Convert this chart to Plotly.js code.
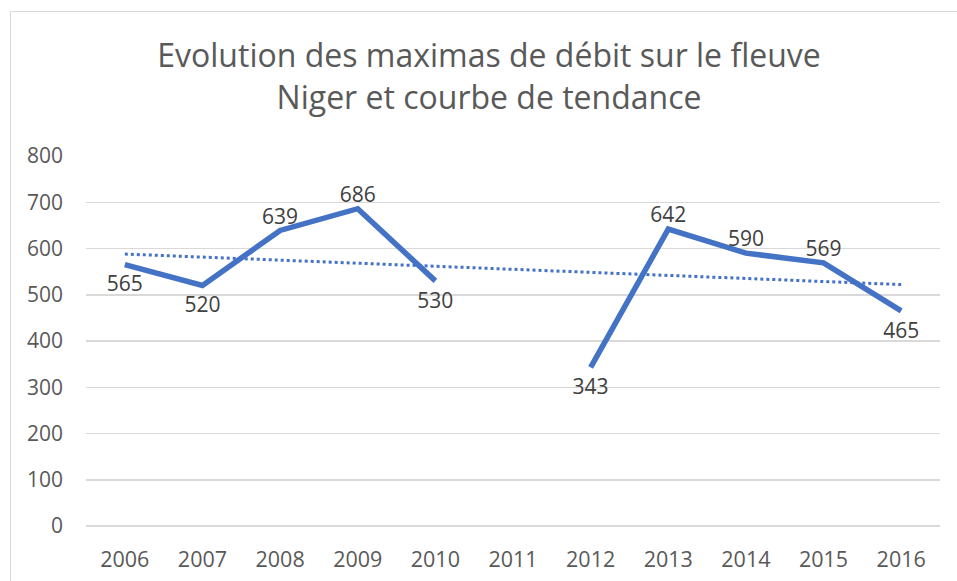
<!DOCTYPE html>
<html>
<head>
<meta charset="utf-8">
<script src="https://cdn.plot.ly/plotly-3.0.1.min.js"></script>
<style>
html,body{margin:0;padding:0;background:#fff;overflow:hidden;}
#chart{width:957px;height:581px;}
#frame{position:absolute;left:10px;top:11px;width:980px;height:620px;border:1px solid #d9d9d9;pointer-events:none;}
</style>
</head>
<body>
<div id="chart"></div>
<div id="frame"></div>
<script>
const years = ['2006','2007','2008','2009','2010','2011','2012','2013','2014','2015','2016'];
const maxDebit = [565, 520, 639, 686, 530, null, 343, 642, 590, 569, 465];
const labelPos = ['bottom center','bottom center','top center','top center','bottom center','top center','bottom center','top center','top center','top center','bottom center'];
const trendYears = ['2006', '2016'];
const trendValues = [588, 522];
const yTicks = [0, 100, 200, 300, 400, 500, 600, 700, 800];

const txt = '#595959';
const font = 'Open Sans, Noto Sans, sans-serif';

const traces = [
  {
    x: trendYears, y: trendValues, type: 'scatter', mode: 'lines',
    line: {color: '#4472C4', width: 3, dash: 'dot'},
    hoverinfo: 'skip', showlegend: false
  },
  {
    x: years, y: maxDebit, type: 'scatter', mode: 'lines+markers+text',
    connectgaps: false,
    line: {color: '#4472C4', width: 5.5, shape: 'linear'},
    marker: {
      size: labelPos.map(p => p.startsWith('top') ? 1 : 16),
      color: 'rgba(0,0,0,0)',
      line: {width: 0, color: 'rgba(0,0,0,0)'}
    },
    text: maxDebit.map(v => v === null ? '' : String(v)),
    textposition: labelPos,
    textfont: {family: font, size: 21, color: '#404040'},
    cliponaxis: false,
    showlegend: false
  }
];

const layout = {
  width: 957, height: 581,
  margin: {l: 86, r: 17, t: 156, b: 55},
  paper_bgcolor: '#fff', plot_bgcolor: '#fff',
  font: {family: font, color: txt, size: 21},
  title: {
    text: 'Evolution des maximas de débit sur le fleuve<br>Niger et courbe de tendance',
    font: {family: font, size: 32, color: txt},
    x: 0.511, xanchor: 'center', y: 0.884, yanchor: 'top'
  },
  xaxis: {
    type: 'category', categoryorder: 'array', categoryarray: years,
    range: [-0.5, 10.5],
    showgrid: false, showline: false, zeroline: false, ticks: '',
    tickfont: {family: font, size: 21.5, color: txt},
    ticklabelstandoff: 18
  },
  yaxis: {
    range: [0, 800], tickvals: yTicks, ticktext: yTicks.map(String),
    showgrid: true, gridcolor: '#d9d9d9', gridwidth: 1.5,
    zeroline: true, zerolinecolor: '#d9d9d9', zerolinewidth: 1.5,
    showline: false, ticks: '',
    tickfont: {family: font, size: 21, color: txt},
    ticklabelstandoff: 22
  }
};

Plotly.newPlot('chart', traces, layout, {displayModeBar: false, staticPlot: true});
</script>
</body>
</html>
